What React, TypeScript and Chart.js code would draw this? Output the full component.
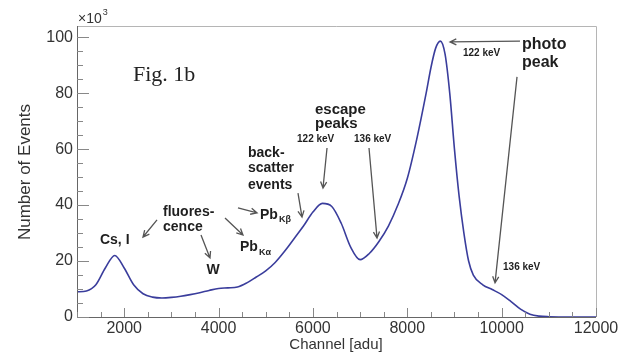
import React, { useEffect, useRef } from "react";
import { Chart, registerables } from "chart.js";

Chart.register(...registerables);

// Spectrum data: channel [adu] vs number of events (x10^3)
const channels = [
  1000, 1200, 1400, 1600, 1800, 2000, 2200, 2400, 2600, 2800, 3000, 3200, 3400, 3600, 3800,
  4000, 4200, 4400, 4600, 4800, 5000, 5200, 5400, 5600, 5800, 6000, 6200, 6400, 6600, 6800,
  7000, 7200, 7400, 7600, 7800, 8000, 8200, 8400, 8500, 8600, 8700, 8800, 8900, 9000, 9100,
  9200, 9300, 9400, 9600, 9800, 10000, 10200, 10400, 10600, 10800, 11000, 11500, 12000,
];
const events = [
  9.0, 9.3, 11.5, 17.5, 22.0, 17.5, 11.5, 8.3, 7.1, 6.8, 7.0, 7.4, 8.0, 8.7, 9.5,
  10.2, 10.4, 10.7, 12.2, 14.3, 16.5, 19.5, 23.5, 28.0, 32.5, 37.5, 40.6, 39.5, 33.5, 25.0,
  20.5, 22.8, 27.0, 32.5, 40.0, 49.5, 63.5, 80.0, 89.0, 96.0, 98.6, 94.0, 80.0, 60.0, 43.0,
  30.0, 20.0, 15.0, 11.5, 9.8, 8.0, 5.5, 2.8, 1.0, 0.3, 0.1, 0.0, 0.0,
];
const xTicks = [2000, 4000, 6000, 8000, 10000, 12000];
const yTicks = [0, 20, 40, 60, 80, 100];
const xMinorStep = 500;
const yMinorStep = 5;

// Annotations (data coordinates)
type Txt = { x: number; y: number; text: string; sub?: string; size: number; align?: CanvasTextAlign };
const labels: Txt[] = [
  { x: 1487, y: 27.5, text: "Cs, I", size: 14 },
  { x: 2823, y: 37.5, text: "fluores-", size: 14 },
  { x: 2823, y: 32.2, text: "cence", size: 14 },
  { x: 3883, y: 16.8, text: "W", size: 14, align: "center" },
  { x: 4455, y: 25.0, text: "Pb", sub: "Kα", size: 14 },
  { x: 4879, y: 36.5, text: "Pb", sub: "Kβ", size: 14 },
  { x: 4624, y: 58.6, text: "back-", size: 14 },
  { x: 4624, y: 53.3, text: "scatter", size: 14 },
  { x: 4624, y: 47.2, text: "events", size: 14 },
  { x: 6044, y: 74.0, text: "escape", size: 15 },
  { x: 6044, y: 69.0, text: "peaks", size: 15 },
  { x: 5663, y: 63.5, text: "122 keV", size: 10 },
  { x: 6871, y: 63.5, text: "136 keV", size: 10 },
  { x: 9181, y: 94.4, text: "122 keV", size: 10 },
  { x: 10432, y: 97.2, text: "photo", size: 16 },
  { x: 10432, y: 90.8, text: "peak", size: 16 },
  { x: 10029, y: 17.9, text: "136 keV", size: 10 },
];
const arrows: [number, number, number, number][] = [
  [2696, 34.7, 2399, 28.6],
  [3628, 29.3, 3819, 21.1],
  [4137, 35.4, 4518, 29.3],
  [4412, 39.0, 4815, 37.2],
  [5684, 44.3, 5769, 35.7],
  [6299, 60.4, 6214, 46.1],
  [7189, 60.4, 7359, 28.2],
  [10389, 98.6, 8906, 98.3],
  [10326, 85.8, 9860, 12.2],
];

const SANS = "'Liberation Sans', Arial, sans-serif";

const overlay = {
  id: "rootStyle",
  afterDraw(chart: any) {
    const { ctx, chartArea: a, scales } = chart;
    const xs = scales.x;
    const ys = scales.y;
    ctx.save();
    // frame
    ctx.lineWidth = 1;
    ctx.strokeStyle = "#b5b5b5";
    ctx.beginPath();
    ctx.moveTo(a.left, a.top + 0.5);
    ctx.lineTo(a.right + 0.5, a.top + 0.5);
    ctx.lineTo(a.right + 0.5, a.bottom);
    ctx.stroke();
    ctx.strokeStyle = "#666";
    ctx.beginPath();
    ctx.moveTo(a.left + 0.5, a.top);
    ctx.lineTo(a.left + 0.5, a.bottom + 0.5);
    ctx.lineTo(a.right, a.bottom + 0.5);
    ctx.stroke();
    // ticks
    ctx.strokeStyle = "#888";
    ctx.beginPath();
    for (let v = 1000; v <= 12000; v += xMinorStep) {
      const px = Math.round(xs.getPixelForValue(v)) + 0.5;
      const len = v % 2000 === 0 ? 9 : 5;
      ctx.moveTo(px, a.bottom);
      ctx.lineTo(px, a.bottom - len);
    }
    for (let v = 0; v <= 100; v += yMinorStep) {
      const py = Math.round(ys.getPixelForValue(v)) + 0.5;
      const len = v % 20 === 0 ? 12 : 6;
      ctx.moveTo(a.left, py);
      ctx.lineTo(a.left + len, py);
    }
    ctx.stroke();

    // axis titles
    ctx.fillStyle = "#333";
    ctx.font = `15px ${SANS}`;
    ctx.textAlign = "center";
    ctx.textBaseline = "middle";
    ctx.fillText("Channel [adu]", 336, 345);
    ctx.save();
    ctx.translate(25, 172);
    ctx.rotate(-Math.PI / 2);
    ctx.font = `17px ${SANS}`;
    ctx.fillText("Number of Events", 0, 0);
    ctx.restore();
    // x10^3
    ctx.textAlign = "left";
    ctx.font = `14px ${SANS}`;
    ctx.fillText("×10", a.left + 1, 19);
    const w10 = ctx.measureText("×10").width;
    ctx.font = `9px ${SANS}`;
    ctx.fillText("3", a.left + 1 + w10 + 1, 13);
    // Fig label
    ctx.fillStyle = "#222";
    ctx.font = `22px 'Liberation Serif', 'Times New Roman', serif`;
    ctx.fillText("Fig. 1b", a.left + 56, 75);

    // arrows
    ctx.strokeStyle = "#555";
    ctx.lineWidth = 1.3;
    for (const [x1, y1, x2, y2] of arrows) {
      const p1x = xs.getPixelForValue(x1), p1y = ys.getPixelForValue(y1);
      const p2x = xs.getPixelForValue(x2), p2y = ys.getPixelForValue(y2);
      const ang = Math.atan2(p2y - p1y, p2x - p1x);
      const h = 7;
      ctx.beginPath();
      ctx.moveTo(p1x, p1y);
      ctx.lineTo(p2x, p2y);
      ctx.moveTo(p2x - h * Math.cos(ang - 0.45), p2y - h * Math.sin(ang - 0.45));
      ctx.lineTo(p2x, p2y);
      ctx.lineTo(p2x - h * Math.cos(ang + 0.45), p2y - h * Math.sin(ang + 0.45));
      ctx.stroke();
    }
    // labels
    ctx.fillStyle = "#1e1e1e";
    ctx.textBaseline = "middle";
    for (const l of labels) {
      const px = xs.getPixelForValue(l.x), py = ys.getPixelForValue(l.y);
      ctx.font = `bold ${l.size}px ${SANS}`;
      ctx.textAlign = l.align || "left";
      ctx.fillText(l.text, px, py);
      if (l.sub) {
        const w = ctx.measureText(l.text).width;
        ctx.font = `bold ${Math.round(l.size * 0.65)}px ${SANS}`;
        ctx.fillText(l.sub, px + w + 1, py + 5);
      }
    }
    ctx.restore();
  },
};

export default function App() {
  const ref = useRef<HTMLCanvasElement>(null);
  useEffect(() => {
    document.body.style.margin = "0";
    const chart = new Chart(ref.current!, {
      type: "line",
      data: {
        datasets: [
          {
            data: channels.map((c, i) => ({ x: c, y: events[i] })),
            borderColor: "#3a3d9c",
            borderWidth: 1.6,
            pointRadius: 0,
            tension: 0.4,
            cubicInterpolationMode: "monotone",
            fill: false,
          },
        ],
      },
      options: {
        animation: false,
        responsive: false,
        devicePixelRatio: 1,
        layout: { padding: { top: 26, right: 33, left: 0, bottom: 0 } },
        plugins: { legend: { display: false }, tooltip: { enabled: false } },
        scales: {
          x: {
            type: "linear",
            min: 1000,
            max: 12000,
            grid: { display: false, drawTicks: false },
            border: { display: false },
            afterBuildTicks: (s: any) => { s.ticks = xTicks.map((v) => ({ value: v })); },
            afterFit: (s: any) => { s.height = 37; },
            ticks: {
              padding: 2,
              color: "#333",
              font: { family: SANS, size: 16 },
              maxRotation: 0,
              autoSkip: false,
              callback: (v: any) => String(v),
            },
          },
          y: {
            type: "linear",
            min: 0,
            max: 104,
            grid: { display: false, drawTicks: false },
            border: { display: false },
            afterBuildTicks: (s: any) => { s.ticks = yTicks.map((v) => ({ value: v })); },
            afterFit: (s: any) => { s.width = 77; },
            ticks: {
              padding: 4,
              color: "#333",
              font: { family: SANS, size: 16 },
              autoSkip: false,
              callback: (v: any) => String(v),
            },
          },
        },
      },
      plugins: [overlay],
    } as any);
    return () => chart.destroy();
  }, []);
  return <canvas ref={ref} width={629} height={354} style={{ display: "block" }} />;
}
